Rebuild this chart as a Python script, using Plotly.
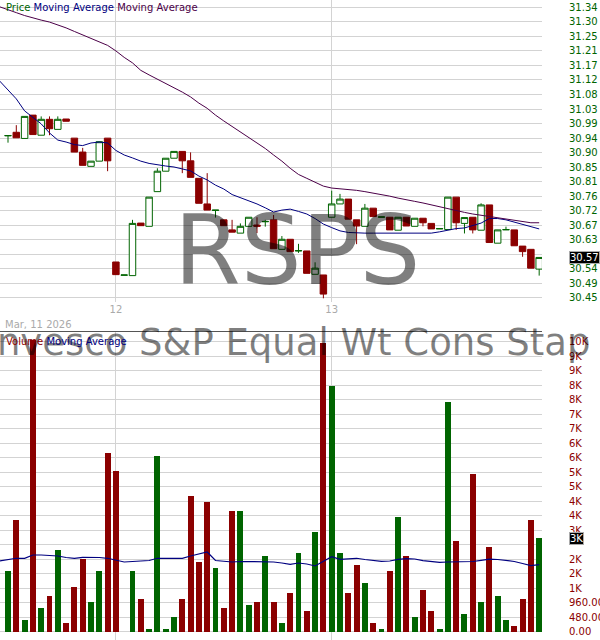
import plotly.graph_objects as go

# ---------------- data (15-minute bars, Mar 11 afternoon -> Mar 13) ----------------
opens = [30.948, 30.959, 30.940, 31.012, 30.950, 30.999, 30.968, 31.000, 30.941, 30.898, 30.854, 30.870, 30.941,
         30.559, 30.518, 30.517, 30.679, 30.669, 30.776, 30.839, 30.879, 30.900, 30.871, 30.817, 30.738, 30.718,
         30.689, 30.658, 30.648, 30.669, 30.673, 30.683, 30.689, 30.598, 30.629, 30.593, 30.593, 30.521, 30.519,
         30.697, 30.738, 30.753, 30.689, 30.669, 30.725, 30.697, 30.697, 30.657, 30.697, 30.669, 30.694, 30.678,
         30.661, 30.659, 30.759, 30.678, 30.697, 30.657, 30.735, 30.617, 30.658, 30.658, 30.608, 30.598, 30.537]
closes = [30.949, 30.942, 31.008, 30.952, 30.999, 30.970, 30.999, 30.993, 30.898, 30.857, 30.870, 30.930, 30.871,
          30.520, 30.519, 30.678, 30.671, 30.759, 30.839, 30.879, 30.900, 30.871, 30.820, 30.740, 30.719, 30.719,
          30.671, 30.651, 30.669, 30.697, 30.669, 30.684, 30.600, 30.629, 30.591, 30.594, 30.524, 30.540, 30.460,
          30.738, 30.753, 30.691, 30.670, 30.725, 30.699, 30.698, 30.658, 30.697, 30.670, 30.694, 30.680, 30.661,
          30.662, 30.759, 30.680, 30.696, 30.658, 30.735, 30.619, 30.658, 30.659, 30.609, 30.591, 30.540, 30.573]
highs = [30.949, 30.981, 31.008, 31.012, 31.008, 31.008, 31.008, 31.000, 30.941, 30.911, 30.870, 30.930, 30.941,
         30.559, 30.519, 30.689, 30.679, 30.759, 30.848, 30.879, 30.900, 30.900, 30.897, 30.817, 30.833, 30.719,
         30.689, 30.689, 30.678, 30.697, 30.697, 30.689, 30.704, 30.639, 30.629, 30.615, 30.593, 30.558, 30.519,
         30.779, 30.769, 30.753, 30.689, 30.738, 30.725, 30.698, 30.697, 30.697, 30.697, 30.694, 30.694, 30.678,
         30.662, 30.759, 30.759, 30.696, 30.697, 30.740, 30.735, 30.658, 30.668, 30.658, 30.608, 30.598, 30.573]
lows = [30.927, 30.942, 30.940, 30.952, 30.950, 30.950, 30.968, 30.993, 30.898, 30.857, 30.854, 30.870, 30.839,
        30.520, 30.518, 30.517, 30.671, 30.669, 30.776, 30.839, 30.879, 30.833, 30.820, 30.740, 30.719, 30.696,
        30.671, 30.651, 30.648, 30.669, 30.648, 30.668, 30.600, 30.598, 30.591, 30.587, 30.524, 30.521, 30.447,
        30.697, 30.738, 30.691, 30.614, 30.669, 30.699, 30.697, 30.658, 30.657, 30.670, 30.669, 30.669, 30.661,
        30.661, 30.659, 30.658, 30.647, 30.647, 30.657, 30.619, 30.617, 30.658, 30.609, 30.575, 30.540, 30.517]
volumes = [2019, 3707, 397, 9666, 794, 1192, 2714, 298, 1490, 2416, 993, 2019, 5915,
           5329, 0, 2019, 1092, 99, 5826, 99, 496, 1092, 4502, 2317, 4303, 2118, 794, 4005, 4005, 894, 993,
           2516, 993, 298, 1291, 2615, 695, 3310, 9556,
           8153, 2625, 1291, 2218, 1622, 298, 99, 2019, 3807, 2516, 496, 1390, 695, 99, 7613, 3012, 596,
           5230, 993, 2814, 1192, 397, 199, 1092, 3707, 3111]

# moving averages start one bar before the first visible bar
price_ma_short = [31.117, 31.089, 31.062, 31.025, 31.006, 30.985, 30.957, 30.935, 30.929, 30.921, 30.918, 30.926,
                  30.929, 30.926,
                  30.903, 30.889, 30.880, 30.870, 30.863, 30.858, 30.855, 30.852, 30.847, 30.840, 30.824, 30.812,
                  30.796, 30.784, 30.767, 30.758, 30.749, 30.738, 30.726, 30.713, 30.719, 30.722, 30.715, 30.707,
                  30.693, 30.676,
                  30.665, 30.655, 30.650, 30.648, 30.648, 30.648, 30.648, 30.648, 30.648, 30.648, 30.648, 30.648,
                  30.648, 30.652, 30.658, 30.662, 30.664, 30.672, 30.679, 30.693, 30.693, 30.689, 30.682, 30.676,
                  30.670, 30.661]
price_ma_long = [31.346, 31.336, 31.328, 31.319, 31.311, 31.305, 31.299, 31.291, 31.281, 31.270, 31.259, 31.247,
                 31.236, 31.227,
                 31.210, 31.190, 31.173, 31.150, 31.136, 31.123, 31.111, 31.097, 31.083, 31.068, 31.049, 31.033,
                 31.012, 30.994, 30.977, 30.960, 30.943, 30.926, 30.909, 30.889, 30.870, 30.848, 30.829, 30.817,
                 30.804, 30.793,
                 30.787, 30.785, 30.784, 30.780, 30.776, 30.772, 30.767, 30.762, 30.756, 30.752, 30.746, 30.741,
                 30.735, 30.730, 30.722, 30.716, 30.712, 30.707, 30.703, 30.699, 30.695, 30.690, 30.686, 30.683,
                 30.680, 30.680]
vol_ma = [2350, 2383, 2440, 2440, 2549, 2549, 2539, 2516, 2466, 2440, 2473, 2473, 2466, 2440,
          2383, 2317, 2334, 2350, 2367, 2440, 2440, 2440, 2440, 2516, 2572, 2648, 2367, 2334, 2317, 2334,
          2334, 2317, 2317, 2317, 2284, 2241, 2284, 2251, 2185, 2350,
          2492, 2406, 2433, 2440, 2400, 2360, 2340, 2350, 2406, 2426, 2416, 2360, 2334, 2307, 2317, 2317,
          2324, 2334, 2373, 2410, 2400, 2367, 2334, 2267, 2195, 2228]

day_tick_index = [13, 39]
day_tick_labels = ["12", "13"]
date_label = "Mar, 11 2026"
symbol = "RSPS"
fund_name = "Invesco S&P Equal Wt Cons Stap"

price_tick_values = [30.448, 30.4928, 30.5377, 30.5825, 30.6273, 30.6722, 30.7170, 30.7618, 30.8066, 30.8515,
                     30.8963, 30.9411, 30.9860, 31.0308, 31.0756, 31.1205, 31.1653, 31.2101, 31.2549, 31.2998,
                     31.3446]
price_tick_labels = ["30.45", "30.49", "30.54", "", "30.63", "30.67", "30.72", "30.76", "30.81", "30.85",
                     "30.90", "30.94", "30.99", "31.03", "31.08", "31.12", "31.17", "31.21", "31.25", "31.30",
                     "31.34"]
vol_tick_values = [0, 480, 960, 1440, 1920, 2400, 2880, 3360, 3840, 4320, 4800, 5280, 5760, 6240, 6720, 7200,
                   7680, 8160, 8640, 9120, 9600]
vol_tick_labels = ["0.00", "480.00", "960.00", "1K", "2K", "2K", "", "3K", "4K", "4K", "5K", "5K", "6K", "6K",
                   "7K", "7K", "8K", "8K", "9K", "9K", "10K"]

# ---------------- styling ----------------
W, H = 600, 640
PLOT_RIGHT = 542
GREEN = "#006400"
RED = "#8b0000"
NAVY = "#000080"
PURPLE = "#4b0048"
GRID = "#d3d3d3"
FONT = "DejaVu Sans"
WATER = "rgba(0,0,0,0.5)"


def px_x(px):
    return px / PLOT_RIGHT


def px_y(py):
    return 1 - py / H


n = len(opens)
bar_x = list(range(n))
ma_x = list(range(-1, n))
vol_colors = [GREEN if c >= o else RED for o, c in zip(opens, closes)]
x_range = [-0.964, 64.34]

fig = go.Figure()
fig.add_trace(go.Candlestick(
    x=bar_x, open=opens, high=highs, low=lows, close=closes,
    increasing=dict(line=dict(color=GREEN, width=1), fillcolor="white"),
    decreasing=dict(line=dict(color=RED, width=1), fillcolor=RED),
    whiskerwidth=0, xaxis="x", yaxis="y", hoverinfo="skip"))
fig.add_trace(go.Scatter(x=ma_x, y=price_ma_short, mode="lines", line=dict(color=NAVY, width=1),
                         xaxis="x", yaxis="y", hoverinfo="skip"))
fig.add_trace(go.Scatter(x=ma_x, y=price_ma_long, mode="lines", line=dict(color=PURPLE, width=1),
                         xaxis="x", yaxis="y", hoverinfo="skip"))
fig.add_trace(go.Bar(x=bar_x, y=volumes, width=0.72, marker=dict(color=vol_colors, line=dict(width=0)),
                     xaxis="x2", yaxis="y2", hoverinfo="skip"))
fig.add_trace(go.Scatter(x=ma_x, y=vol_ma, mode="lines", line=dict(color=NAVY, width=1.2),
                         xaxis="x2", yaxis="y2", hoverinfo="skip"))

fig.update_layout(
    width=W, height=H,
    margin=dict(l=0, r=W - PLOT_RIGHT, t=0, b=0, pad=0),
    paper_bgcolor="white", plot_bgcolor="white",
    showlegend=False, boxgap=0.22, boxgroupgap=0, bargap=0,
    xaxis=dict(domain=[0, 1], range=x_range, tickvals=day_tick_index, ticktext=day_tick_labels,
               showgrid=True, gridcolor=GRID, gridwidth=1, zeroline=False, showline=False, ticks="",
               tickfont=dict(family=FONT, size=10, color="#aaaaaa"), rangeslider=dict(visible=False),
               anchor="y", fixedrange=True),
    yaxis=dict(domain=[1 - 302 / H, 1], range=[30.4356, 31.367], side="right",
               tickvals=price_tick_values, ticktext=price_tick_labels, showgrid=True, gridcolor=GRID,
               zeroline=False, showline=False, ticks="", ticklabelstandoff=26,
               tickfont=dict(family=FONT, size=10, color=GREEN), anchor="x", automargin=False),
    xaxis2=dict(domain=[0, 1], range=x_range, tickvals=day_tick_index, showticklabels=False,
                showgrid=True, gridcolor=GRID, gridwidth=1, zeroline=False, showline=True,
                linecolor="#555555", linewidth=1, side="top", ticks="", anchor="y2"),
    yaxis2=dict(domain=[0, (H - 332) / H], range=[-265, 9930], side="right",
                tickvals=vol_tick_values, ticktext=vol_tick_labels, showgrid=True, gridcolor=GRID,
                zeroline=False, showline=False, ticks="", ticklabelstandoff=26,
                tickfont=dict(family=FONT, size=10, color=RED), anchor="x2", automargin=False),
)

ann = []
ann.append(dict(xref="paper", yref="paper", x=px_x(297), y=px_y(251), xanchor="center", yanchor="middle",
                showarrow=False, font=dict(family=FONT, size=96, color=WATER), text=symbol))
ann.append(dict(xref="paper", yref="paper", x=px_x(288), y=px_y(342), xanchor="center", yanchor="middle",
                showarrow=False, font=dict(family=FONT, size=37, color=WATER), text=fund_name))
ann.append(dict(xref="paper", yref="paper", x=px_x(4), y=px_y(7), xanchor="left", yanchor="middle",
                showarrow=False, font=dict(family=FONT, size=10),
                text=(f'<span style="color:{GREEN}">Price</span> '
                      f'<span style="color:{NAVY}">Moving Average</span> '
                      f'<span style="color:{PURPLE}">Moving Average</span>')))
ann.append(dict(xref="paper", yref="paper", x=px_x(3), y=px_y(324), xanchor="left", yanchor="middle",
                showarrow=False, font=dict(family=FONT, size=10, color="#aaaaaa"), text=date_label))
ann.append(dict(xref="paper", yref="paper", x=px_x(4), y=px_y(341), xanchor="left", yanchor="middle",
                showarrow=False, font=dict(family=FONT, size=10),
                text=(f'<span style="color:{RED}">Volume</span> '
                      f'<span style="color:{NAVY}">Moving Average</span>')))
ann.append(dict(xref="paper", yref="y", x=px_x(569), y=closes[-1], xanchor="left", yanchor="middle",
                showarrow=False, font=dict(family=FONT, size=10, color="white"), bgcolor="black",
                bordercolor="#aaaaaa", borderwidth=1, borderpad=0, text=f"{closes[-1]:.2f}"))
ann.append(dict(xref="paper", yref="y2", x=px_x(569), y=volumes[-1], xanchor="left", yanchor="middle",
                showarrow=False, font=dict(family=FONT, size=10, color="white"), bgcolor="black",
                bordercolor="#aaaaaa", borderwidth=1, borderpad=0, text=f"{round(volumes[-1] / 1000)}K"))
fig.update_layout(annotations=ann)

fig.write_html("out.html", config={"displayModeBar": False},
               post_script="document.body.style.margin='0';document.body.style.padding='0';"
                           "document.body.style.overflow='hidden';")
